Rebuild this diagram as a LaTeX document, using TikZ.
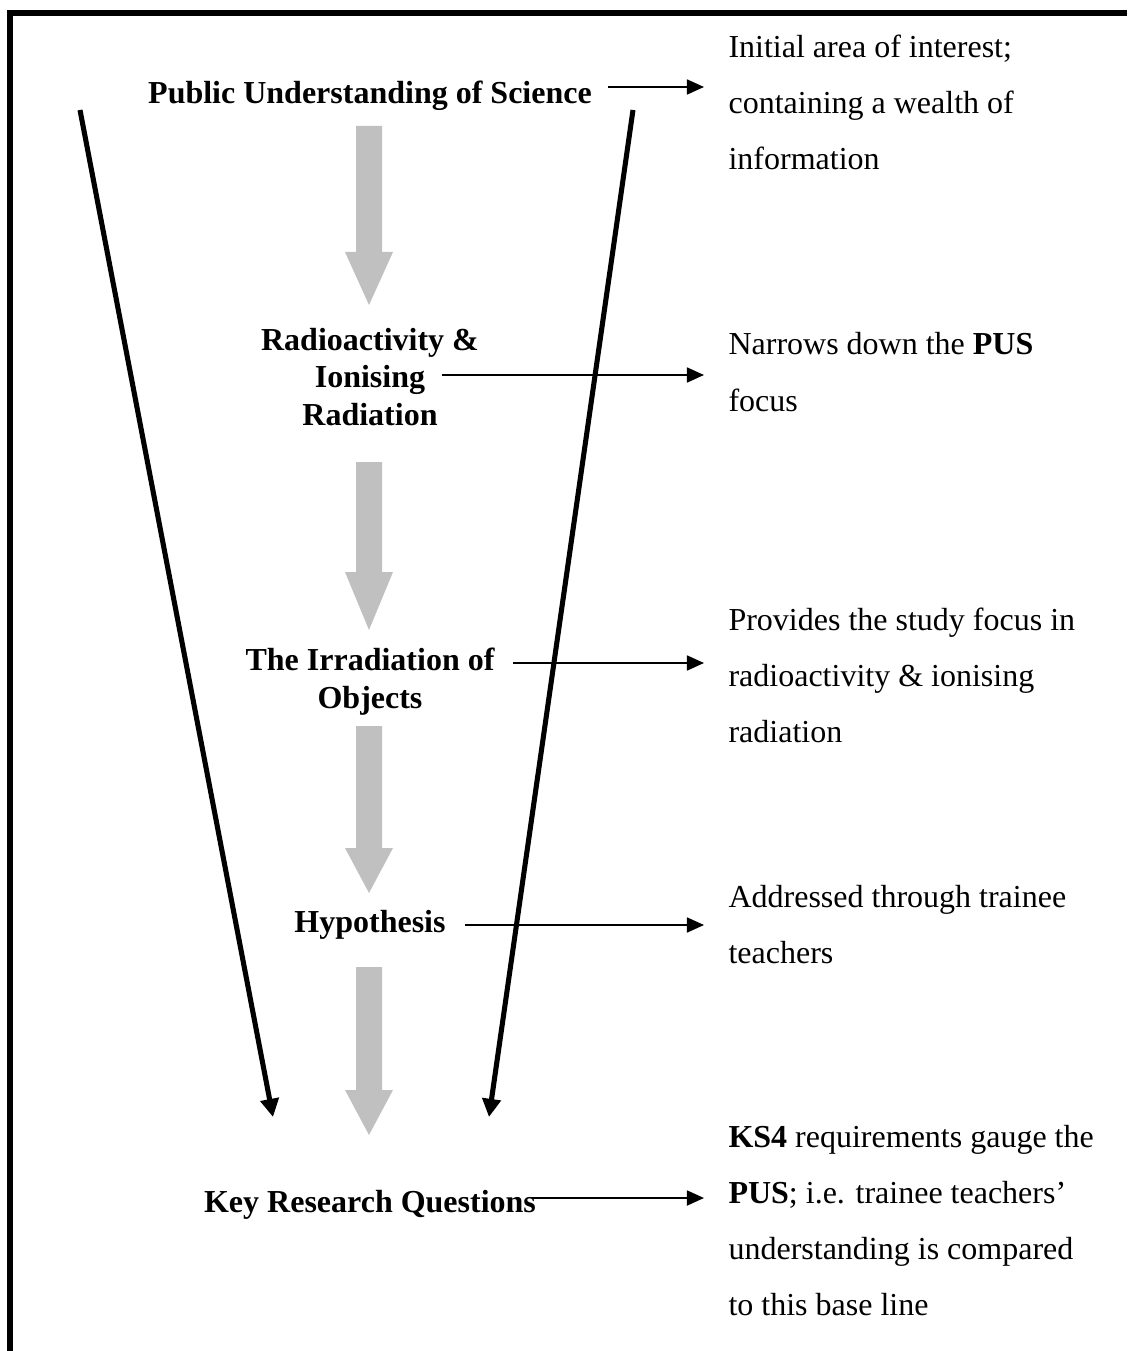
\documentclass[tikz,border=0pt]{standalone}
\usepackage{fontspec}
\setmainfont{Liberation Serif}
\usepackage{tikz}
\usetikzlibrary{arrows.meta}
\definecolor{shaftgray}{RGB}{192,192,192}
\tikzset{
  stage/.style={font=\fontsize{12}{14}\selectfont\bfseries, align=center,
    inner sep=0pt, anchor=base},
  note/.style={font=\fontsize{12}{21}\selectfont, align=left,
    inner sep=0pt, anchor=base west},
  pointer/.style={-{Triangle[width=5.6pt,length=6.4pt]}, line width=0.75pt},
  funnel/.style={-{Triangle[width=6.8pt,length=6.8pt]}, line width=1.9pt},
  flow/.style={fill=shaftgray, draw=none}
}

\begin{document}
\begin{tikzpicture}[x=0.375pt, y=-0.375pt]
  \useasboundingbox (0,0) rectangle (1127,1351);

  % Frame
  \draw[line width=1.9pt, line join=miter] (10,1351) -- (10,13) -- (1127,13);

  % Stages (anchored at the baseline of their last line)
  \node[stage] (pus) at (370,104) {Public Understanding of Science};
  \node[stage] (rad) at (370,425) {Radioactivity \&\\Ionising\\Radiation};
  \node[stage] (irr) at (370,708) {The Irradiation of\\Objects};
  \node[stage] (hyp) at (370,932) {Hypothesis};
  \node[stage] (krq) at (370,1212) {Key Research Questions};

  % Notes
  \node[note] (pusnote) at (728,170) {Initial area of interest;\\containing a wealth of\\information};
  \node[note] (radnote) at (728,411) {Narrows down the \textbf{PUS}\\focus};
  \node[note] (irrnote) at (728,742) {Provides the study focus in\\radioactivity \& ionising\\radiation};
  \node[note] (hypnote) at (728,963) {Addressed through trainee\\teachers};
  \node[note] (krqnote) at (728,1315) {\textbf{KS4} requirements gauge the\\\textbf{PUS}; i.e. trainee teachers'\\understanding is compared\\to this base line};

  % Gray flow arrows
  \fill[flow] (356,126) -- (382,126) -- (382,252) -- (393,252) -- (369,305) -- (345,252) -- (356,252) -- cycle;
  \fill[flow] (356,462) -- (382,462) -- (382,572) -- (393,572) -- (369,630) -- (345,572) -- (356,572) -- cycle;
  \fill[flow] (356,726) -- (382,726) -- (382,848) -- (393,848) -- (369,893) -- (345,848) -- (356,848) -- cycle;
  \fill[flow] (356,967) -- (382,967) -- (382,1090) -- (393,1090) -- (369,1135) -- (345,1090) -- (356,1090) -- cycle;

  % Funnel sides
  \coordinate (ltop) at (80,110);
  \coordinate (lend) at (273,1117);
  \coordinate (rtop) at (633,110);
  \coordinate (rend) at (489,1117);
  \draw[funnel] (ltop) -- (lend);
  \draw[funnel] (rtop) -- (rend);

  % Pointers to notes
  \coordinate (pusout) at (608,87);   \coordinate (pusin) at (704,87);
  \coordinate (radout) at (442,375);  \coordinate (radin) at (704,375);
  \coordinate (irrout) at (513,663);  \coordinate (irrin) at (704,663);
  \coordinate (hypout) at (465,925);  \coordinate (hypin) at (704,925);
  \coordinate (krqout) at (532,1198); \coordinate (krqin) at (704,1198);
  \draw[pointer] (pusout) -- (pusin);
  \draw[pointer] (radout) -- (radin);
  \draw[pointer] (irrout) -- (irrin);
  \draw[pointer] (hypout) -- (hypin);
  \draw[pointer] (krqout) -- (krqin);
\end{tikzpicture}
\end{document}
